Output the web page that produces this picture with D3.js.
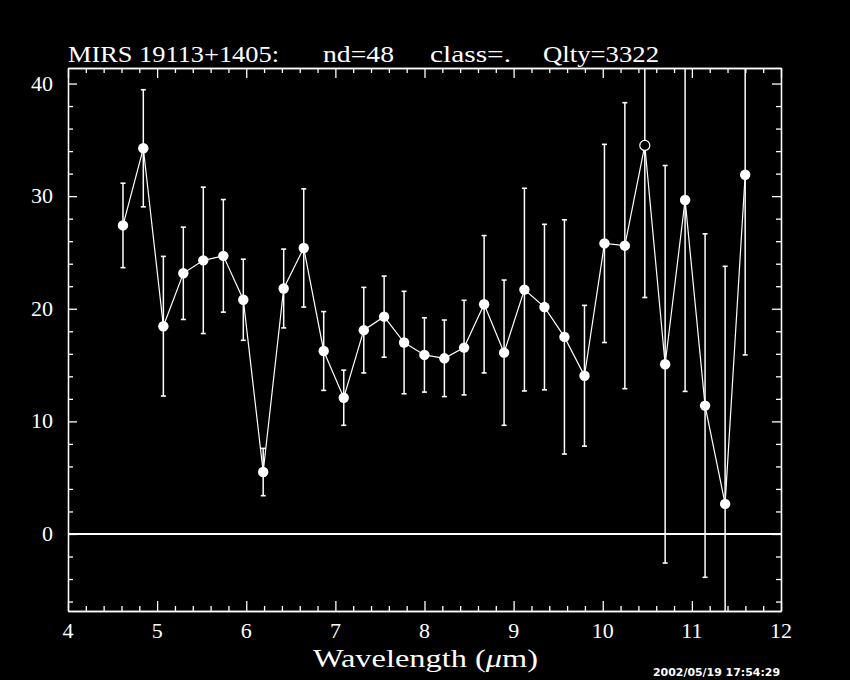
<!DOCTYPE html>
<html>
<head>
<meta charset="utf-8">
<script src="https://cdn.jsdelivr.net/npm/d3@7/dist/d3.min.js"></script>
<style>
  html, body { margin: 0; padding: 0; background: #000; }
  svg { display: block; }
</style>
</head>
<body>
<div id="chart"></div>
<script>
// MIRS spectrum: wavelength (um), flux, 1-sigma error
const wavelength = [4.617, 4.845, 5.070, 5.294, 5.518, 5.743, 5.967, 6.190, 6.420, 6.645,
  6.869, 7.094, 7.319, 7.547, 7.771, 7.999, 8.223, 8.444, 8.669, 8.893,
  9.121, 9.346, 9.570, 9.795, 10.019, 10.248, 10.472, 10.700, 10.924, 11.148,
  11.373, 11.598];
const flux = [27.4, 34.25, 18.45, 23.15, 24.3, 24.7, 20.8, 5.5, 21.8, 25.4,
  16.25, 12.1, 18.1, 19.3, 17.0, 15.9, 15.6, 16.55, 20.4, 16.1,
  21.7, 20.15, 17.5, 14.05, 25.8, 25.6, 34.5, 15.07, 29.66, 11.4,
  2.67, 31.9];
const fluxErr = [3.75, 5.2, 6.2, 4.1, 6.5, 5.0, 3.6, 2.1, 3.5, 5.25,
  3.5, 2.45, 3.8, 3.6, 4.55, 3.3, 3.4, 4.2, 6.1, 6.45,
  9.0, 7.35, 10.4, 6.25, 8.8, 12.7, 13.5, 17.65, 17.0, 15.25,
  21.1, 16.0];
// flagged points drawn as open circles
const openPoints = [26];

const xTicks = [4, 5, 6, 7, 8, 9, 10, 11, 12];
const yTicks = [0, 10, 20, 30, 40];
const xDomain = [4, 12];
const yDomain = [-6.84, 41.38];

const titleParts = ['MIRS 19113+1405:', 'nd=48', 'class=.', 'Qlty=3322'];
const xLabel = 'Wavelength (';
const stamp = '2002/05/19 17:54:29';

const W = 850, H = 680;
const frame = { left: 68, right: 781, top: 68, bottom: 611 };

const svg = d3.select('#chart').append('svg')
  .attr('width', W)
  .attr('height', H)
  .style('background', '#000');

const x = d3.scaleLinear().domain(xDomain).range([frame.left, frame.right]);
const y = d3.scaleLinear().domain(yDomain).range([frame.bottom, frame.top]);

const data = wavelength.map((w, i) => ({
  w: w, f: flux[i], e: fluxErr[i], open: openPoints.includes(i)
}));

svg.append('defs').append('clipPath').attr('id', 'plotclip')
  .append('rect')
  .attr('x', frame.left).attr('y', frame.top)
  .attr('width', frame.right - frame.left)
  .attr('height', frame.bottom - frame.top);

// ---- axes (ticks drawn inward on all four sides)
const xMinor = d3.range(xDomain[0], xDomain[1] + 0.001, 0.2).filter(v => Math.abs(v - Math.round(v)) > 0.01);
const yMinor = d3.range(-6, 41, 2).filter(v => v % 10 !== 0);

function styleAxis(g) {
  g.selectAll('path, line').attr('stroke', '#fff').attr('stroke-width', 1.3);
  g.selectAll('text').remove();
}

// minor ticks
svg.append('g').attr('transform', `translate(0,${frame.bottom})`)
  .call(d3.axisBottom(x).tickValues(xMinor).tickSizeInner(-5).tickSizeOuter(0)).call(styleAxis);
svg.append('g').attr('transform', `translate(0,${frame.top})`)
  .call(d3.axisTop(x).tickValues(xMinor).tickSizeInner(-5).tickSizeOuter(0)).call(styleAxis);
svg.append('g').attr('transform', `translate(${frame.left},0)`)
  .call(d3.axisLeft(y).tickValues(yMinor).tickSizeInner(-5).tickSizeOuter(0)).call(styleAxis);
svg.append('g').attr('transform', `translate(${frame.right},0)`)
  .call(d3.axisRight(y).tickValues(yMinor).tickSizeInner(-5).tickSizeOuter(0)).call(styleAxis);

// major ticks
svg.append('g').attr('transform', `translate(0,${frame.bottom})`)
  .call(d3.axisBottom(x).tickValues(xTicks).tickSizeInner(-10).tickSizeOuter(0)).call(styleAxis);
svg.append('g').attr('transform', `translate(0,${frame.top})`)
  .call(d3.axisTop(x).tickValues(xTicks).tickSizeInner(-10).tickSizeOuter(0)).call(styleAxis);
svg.append('g').attr('transform', `translate(${frame.left},0)`)
  .call(d3.axisLeft(y).tickValues(yTicks).tickSizeInner(-9).tickSizeOuter(0)).call(styleAxis);
svg.append('g').attr('transform', `translate(${frame.right},0)`)
  .call(d3.axisRight(y).tickValues(yTicks).tickSizeInner(-9).tickSizeOuter(0)).call(styleAxis);

const serif = '"Liberation Serif", "DejaVu Serif", serif';

// tick labels
svg.append('g').selectAll('text').data(yTicks).join('text')
  .attr('x', frame.left - 15)
  .attr('y', d => y(d) + 7)
  .attr('text-anchor', 'end')
  .attr('fill', '#fff')
  .style('font-family', serif)
  .style('font-size', '22px')
  .text(d => d);

svg.append('g').selectAll('text').data(xTicks).join('text')
  .attr('x', d => x(d))
  .attr('y', frame.bottom + 27)
  .attr('text-anchor', 'middle')
  .attr('fill', '#fff')
  .style('font-family', serif)
  .style('font-size', '22px')
  .text(d => d);

// zero line
svg.append('line')
  .attr('x1', frame.left).attr('x2', frame.right)
  .attr('y1', y(0)).attr('y2', y(0))
  .attr('stroke', '#fff').attr('stroke-width', 2);

// ---- data
const plot = svg.append('g').attr('clip-path', 'url(#plotclip)');

const bars = plot.append('g').selectAll('g').data(data).join('g');
bars.append('line')
  .attr('x1', d => x(d.w)).attr('x2', d => x(d.w))
  .attr('y1', d => y(d.f + d.e)).attr('y2', d => y(d.f - d.e))
  .attr('stroke', '#fff').attr('stroke-width', 1.5);
bars.append('line')
  .attr('x1', d => x(d.w) - 2.5).attr('x2', d => x(d.w) + 2.5)
  .attr('y1', d => y(d.f + d.e)).attr('y2', d => y(d.f + d.e))
  .attr('stroke', '#fff').attr('stroke-width', 1.6);
bars.append('line')
  .attr('x1', d => x(d.w) - 2.5).attr('x2', d => x(d.w) + 2.5)
  .attr('y1', d => y(d.f - d.e)).attr('y2', d => y(d.f - d.e))
  .attr('stroke', '#fff').attr('stroke-width', 1.6);

plot.append('path')
  .datum(data)
  .attr('fill', 'none')
  .attr('stroke', '#fff')
  .attr('stroke-width', 1.2)
  .attr('d', d3.line().x(d => x(d.w)).y(d => y(d.f)));

plot.append('g').selectAll('circle').data(data).join('circle')
  .attr('cx', d => x(d.w))
  .attr('cy', d => y(d.f))
  .attr('r', d => d.open ? 5 : 5.2)
  .attr('fill', d => d.open ? '#000' : '#fff')
  .attr('stroke', '#fff')
  .attr('stroke-width', d => d.open ? 1.2 : 0);

// ---- title
const titleX = [68, 323, 430, 543];
const titleW = [211, 71, 81, 116];
svg.append('g').selectAll('text').data(titleParts).join('text')
  .attr('x', (d, i) => titleX[i])
  .attr('y', 62)
  .attr('textLength', (d, i) => titleW[i])
  .attr('lengthAdjust', 'spacingAndGlyphs')
  .attr('fill', '#fff')
  .style('font-family', serif)
  .style('font-size', '23px')
  .text(d => d);

// ---- x axis label
const xl = svg.append('text')
  .attr('x', 313)
  .attr('y', 667)
  .attr('textLength', 225)
  .attr('lengthAdjust', 'spacingAndGlyphs')
  .attr('fill', '#fff')
  .style('font-family', serif)
  .style('font-size', '26px');
xl.append('tspan').text(xLabel);
xl.append('tspan').style('font-style', 'italic').text('\u03bc');
xl.append('tspan').text('m)');

// ---- timestamp
svg.append('text')
  .attr('x', 653)
  .attr('y', 676)
  .attr('textLength', 127)
  .attr('lengthAdjust', 'spacingAndGlyphs')
  .attr('fill', '#fff')
  .style('font-family', '"DejaVu Sans", sans-serif')
  .style('font-weight', 'bold')
  .style('font-size', '10px')
  .text(stamp);
</script>
</body>
</html>
